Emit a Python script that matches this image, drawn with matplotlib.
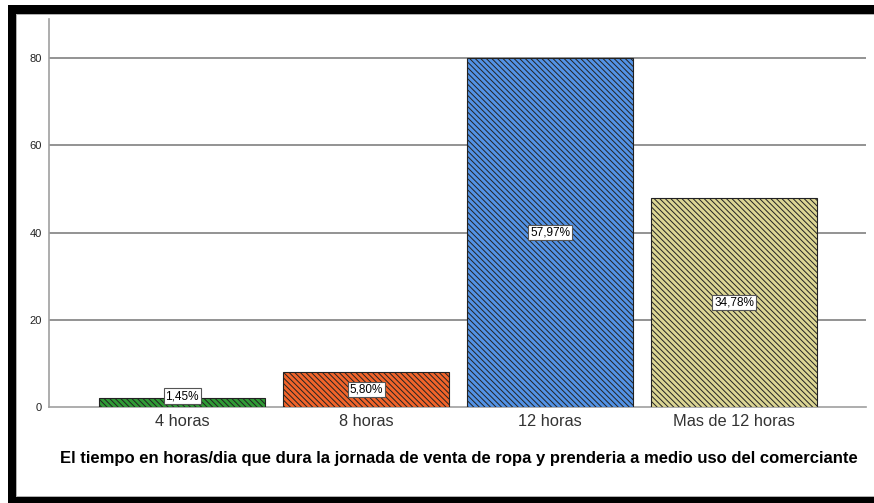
import matplotlib
matplotlib.use("Agg")
import matplotlib.pyplot as plt
from matplotlib.patches import Rectangle

# datos
categorias = ["4 horas", "8 horas", "12 horas", "Mas de 12 horas"]
frecuencias = [2, 8, 80, 48]
porcentajes = ["1,45%", "5,80%", "57,97%", "34,78%"]
colores = ["#2f9a35", "#f2642a", "#5393e6", "#dcd694"]
yticks = [0, 20, 40, 60, 80]
titulo_x = "El tiempo en horas/dia que dura la jornada de venta de ropa y prenderia a medio uso del comerciante"

plt.rcParams['font.family'] = ['Liberation Sans', 'DejaVu Sans']
plt.rcParams['hatch.linewidth'] = 0.7
plt.rcParams['hatch.color'] = 'black'

W, H = 874, 503
fig = plt.figure(figsize=(W / 100, H / 100), dpi=100)
ax = fig.add_axes([49 / W, (H - 407) / H, (866 - 49) / W, (407 - 19) / H])

x = list(range(len(categorias)))
ax.bar(x, frecuencias, width=0.902, color=colores, edgecolor='#222222',
       linewidth=0.8, hatch='\\' * 6, zorder=3)

for xi, v, p in zip(x, frecuencias, porcentajes):
    ax.text(xi, max(v / 2, 2.5), p, ha='center', va='center', fontsize=8.5,
            color='black', zorder=5,
            bbox=dict(boxstyle='square,pad=0.15', fc='white', ec='#555555', lw=0.8))

ax.set_xlim(-0.723, 3.717)
ax.set_ylim(0, 89)
ax.set_yticks(yticks)
ax.set_yticklabels([str(t) for t in yticks], fontsize=8, color='#222222')
ax.set_xticks(x)
ax.set_xticklabels(categorias, fontsize=11.8, color='#333333')
ax.tick_params(axis='y', length=0, pad=5)
ax.tick_params(axis='x', length=0, pad=5)

for t in yticks[1:]:
    ax.axhline(t, color='#808080', lw=1.2, zorder=1)

for s in ['top', 'right']:
    ax.spines[s].set_visible(False)
for s in ['left', 'bottom']:
    ax.spines[s].set_color('#a0a0a0')
    ax.spines[s].set_linewidth(1.2)

fig.text(459 / W, 1 - 458 / H, titulo_x, ha='center', va='center',
         fontsize=12, fontweight='bold', color='black')

# marco negro exterior
def rect_px(x0, y0, x1, y1, color):
    fig.add_artist(Rectangle((x0 / W, 1 - y1 / H), (x1 - x0) / W, (y1 - y0) / H,
                             transform=fig.transFigure, facecolor=color,
                             edgecolor='none', zorder=10))

rect_px(8, 5, 16, 503, 'black')
rect_px(8, 5, 874, 14, 'black')
rect_px(8, 497, 874, 503, 'black')
rect_px(16, 14, 874, 15, '#b0b0b0')
rect_px(16, 14, 17, 497, '#b0b0b0')
rect_px(16, 496, 874, 497, '#b0b0b0')

fig.savefig("out.png", dpi=100)
